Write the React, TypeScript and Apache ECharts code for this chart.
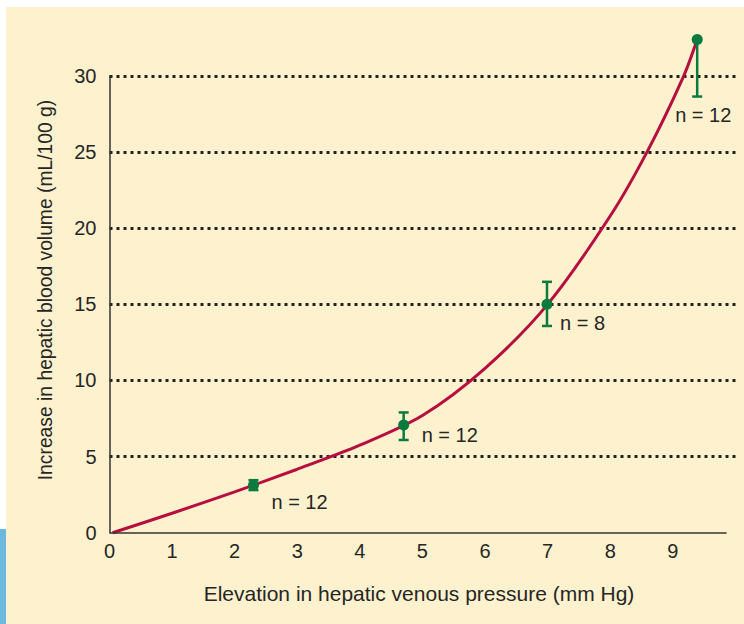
import React, { useEffect, useRef } from "react";
import * as echarts from "echarts";

// Measured points (mean) with error bars
const pressure = [2.3, 4.7, 6.99, 9.39];
const volume = [3.12, 7.08, 15.0, 32.4];
const errHigh = [3.45, 7.9, 16.48, 32.4];
const errLow = [2.8, 6.09, 13.58, 28.65];
const nLabels = ["n = 12", "n = 12", "n = 8", "n = 12"];

// Fitted curve
const curveX = [0.05, 1, 2, 3, 4, 5, 6, 7, 8, 8.6, 9.17, 9.39];
const curveY = [0, 1.28, 2.68, 4.17, 5.75, 7.7, 10.8, 15.0, 20.8, 25.1, 29.96, 32.4];

const xTicks = [0, 1, 2, 3, 4, 5, 6, 7, 8, 9];
const yTicks = [0, 5, 10, 15, 20, 25, 30];

const xTitle = "Elevation in hepatic venous pressure (mm Hg)";
const yTitle = "Increase in hepatic blood volume (mL/100 g)";

// label placement offsets (px) relative to each point
const labelOffsets: [number, number][] = [
  [18, 17],
  [18, 10],
  [13, 19],
  [-22, 76],
];

const FONT = '"Liberation Sans", Arial, Helvetica, sans-serif';
const TEXT = "#262626";
const GREEN = "#0b7a3e";
const RED = "#b80d3f";

export default function App() {
  const ref = useRef<HTMLDivElement>(null);
  useEffect(() => {
    if (!ref.current) return;
    const chart = echarts.init(ref.current, null, { renderer: "svg" });
    const errData = pressure.map((x, i) => [x, volume[i], errHigh[i], errLow[i], i]);
    chart.setOption({
      animation: false,
      backgroundColor: "#fdf2cd",
      graphic: [
        { type: "rect", shape: { x: 0, y: 0, width: 744, height: 7 }, style: { fill: "#ffffff" }, z: -10, silent: true },
        { type: "rect", shape: { x: 0, y: 0, width: 6, height: 529 }, style: { fill: "#ffffff" }, z: -10, silent: true },
        { type: "rect", shape: { x: 0, y: 529, width: 6, height: 95 }, style: { fill: "#6cb9dd" }, z: -10, silent: true },
        {
          type: "text",
          x: 419,
          y: 593,
          style: { text: xTitle, font: `21px ${FONT}`, fill: TEXT, align: "center", verticalAlign: "middle" },
        },
        {
          type: "text",
          x: 45,
          y: 290,
          rotation: Math.PI / 2,
          style: { text: yTitle, font: `19.3px ${FONT}`, fill: TEXT, align: "center", verticalAlign: "middle" },
        },
      ],
      grid: { left: 109.5, right: 5.5, top: 76, bottom: 91.3, containLabel: false },
      xAxis: {
        type: "value",
        min: 0,
        max: 10.05,
        interval: 1,
        axisLine: { show: false },
        axisTick: { show: false },
        splitLine: { show: false },
        axisLabel: {
          color: TEXT,
          fontSize: 20,
          fontFamily: FONT,
          margin: 8,
          showMaxLabel: false,
          formatter: (v: number) => (xTicks.includes(v) ? String(v) : ""),
        },
      },
      yAxis: {
        type: "value",
        min: 0,
        max: 30,
        interval: 5,
        axisLine: { show: true, lineStyle: { color: "#333", width: 1.5 } },
        axisTick: { show: false },
        axisLabel: {
          color: TEXT,
          fontSize: 20,
          fontFamily: FONT,
          margin: 13,
          formatter: (v: number) => (yTicks.includes(v) ? String(v) : ""),
        },
        splitLine: {
          show: true,
          showMinLine: false,
          lineStyle: { color: "#222", width: 2.8, type: [3, 4] },
        },
      },
      series: [
        {
          type: "line",
          data: curveX.map((x, i) => [x, curveY[i]]),
          smooth: 0.3,
          symbol: "none",
          clip: false,
          lineStyle: { color: RED, width: 3 },
          z: 3,
          markLine: {
            silent: true,
            symbol: "none",
            label: { show: false },
            lineStyle: { color: "#333", width: 1.5, type: "solid" },
            data: [[{ coord: [0, 0] }, { coord: [9.86, 0] }]],
          },
        },
        {
          type: "custom",
          clip: false,
          z: 4,
          data: errData,
          renderItem: (params: any, api: any) => {
            const x = api.value(0);
            const y = api.value(1);
            const hi = api.value(2);
            const lo = api.value(3);
            const idx = api.value(4);
            const p = api.coord([x, y]);
            const ph = api.coord([x, hi]);
            const pl = api.coord([x, lo]);
            const cw = 5;
            const st = { stroke: GREEN, lineWidth: 2.5 };
            const children: any[] = [
              { type: "line", shape: { x1: ph[0], y1: ph[1], x2: pl[0], y2: pl[1] }, style: st },
              { type: "line", shape: { x1: pl[0] - cw, y1: pl[1], x2: pl[0] + cw, y2: pl[1] }, style: st },
            ];
            if (hi > y) {
              children.push({ type: "line", shape: { x1: ph[0] - cw, y1: ph[1], x2: ph[0] + cw, y2: ph[1] }, style: st });
            }
            children.push({ type: "circle", shape: { cx: p[0], cy: p[1], r: 5.5 }, style: { fill: GREEN } });
            const off = labelOffsets[idx];
            children.push({
              type: "text",
              x: p[0] + off[0],
              y: p[1] + off[1],
              style: { text: nLabels[idx], font: `20px ${FONT}`, fill: TEXT, align: "left", verticalAlign: "middle" },
            });
            return { type: "group", children };
          },
        },
      ],
    });
    return () => chart.dispose();
  }, []);
  return (
    <div
      ref={ref}
      style={{ position: "fixed", left: 0, top: 0, width: 744, height: 624 }}
    />
  );
}
